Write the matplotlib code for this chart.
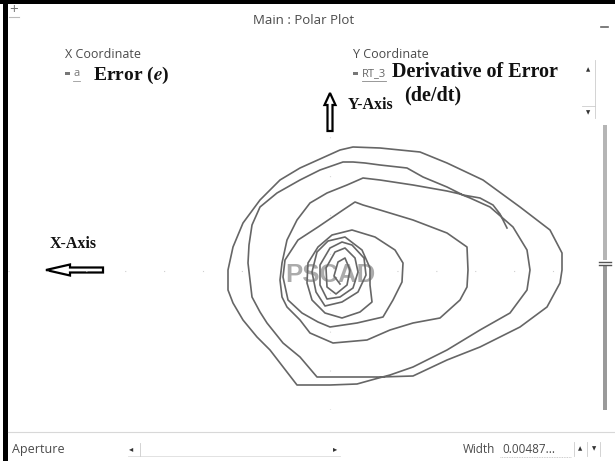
import matplotlib
matplotlib.use("Agg")
import matplotlib.pyplot as plt
from matplotlib.patches import Rectangle, FancyArrow

# phase-plane trajectory: error e (x) against de/dt (y)
e_vals = [
    1.77, 1.70, 1.63, 1.50, 1.33,
    1.17, 0.93, 0.77, 0.50, 0.35, 0.23, 0.13,
    -0.10, -0.30, -0.53, -0.70, -0.78, -0.81, -0.82, -0.80, -0.78, -0.70, -0.63, -0.47, -0.30, -0.13,
    0.20, 0.50, 0.83,
    1.00, 1.17, 1.50, 1.90, 2.17, 2.30, 2.32, 2.32, 2.20, 1.90, 1.53, 1.17, 0.90, 0.50, 0.23,
    0.10, -0.30, -0.50, -0.70, -0.87, -0.97, -1.02, -1.02, -0.97, -0.87, -0.73, -0.60, -0.50, -0.33,
    0.00, 0.27, 0.45, 0.60,
    0.83, 1.17, 1.50, 1.80, 1.97, 2.00, 1.97, 1.83, 1.60, 1.40, 1.30,
    1.17, 0.83, 0.50, 0.33,
    0.17, -0.03, -0.20, -0.33, -0.43, -0.48, -0.50, -0.48, -0.43, -0.30, -0.20, 0.03, 0.37, 0.60,
    0.83, 1.10, 1.30, 1.37, 1.38, 1.37,
    1.17, 0.83, 0.50, 0.33, 0.25, 0.13, -0.12, -0.32, -0.45, -0.47, -0.42, -0.28, -0.12, 0.00, 0.27, 0.53,
    0.63, 0.72, 0.73, 0.65, 0.45, 0.22,
    0.02, -0.12, -0.22, -0.23, -0.18, -0.05, 0.12, 0.30, 0.42,
    0.40, 0.40, 0.32, 0.15, -0.02, -0.13, -0.18, -0.14, -0.05, 0.12, 0.28, 0.36, 0.34, 0.22,
    0.12, 0.00, -0.10, -0.10, -0.03, 0.10, 0.23, 0.28, 0.25, 0.15, 0.05, -0.04, -0.03, 0.06,
    0.17, 0.20, 0.15, 0.08, 0.04, 0.10,
]
de_vals = [
    0.43, 0.57, 0.66, 0.73, 0.76,
    0.84, 0.94, 1.03, 1.06, 1.08, 1.09, 1.09,
    1.01, 0.91, 0.78, 0.64, 0.46, 0.26, 0.08, -0.09, -0.26, -0.41, -0.52, -0.72, -0.86, -1.06,
    -1.06, -1.06, -1.05,
    -0.97, -0.89, -0.76, -0.56, -0.36, -0.12, 0.01, 0.18, 0.41, 0.64, 0.91, 1.08, 1.19, 1.23, 1.24,
    1.21, 1.03, 0.91, 0.71, 0.48, 0.24, 0.01, -0.19, -0.32, -0.49, -0.66, -0.79, -0.92, -1.14,
    -1.14, -1.13, -1.08, -1.04,
    -0.96, -0.79, -0.59, -0.42, -0.19, 0.01, 0.21, 0.44, 0.64, 0.73, 0.77,
    0.80, 0.86, 0.91, 0.93,
    0.86, 0.78, 0.68, 0.51, 0.31, 0.08, -0.09, -0.26, -0.36, -0.49, -0.62, -0.72, -0.69, -0.59,
    -0.52, -0.47, -0.29, -0.16, 0.01, 0.24,
    0.38, 0.51, 0.61, 0.66, 0.69, 0.61, 0.44, 0.31, 0.11, -0.06, -0.29, -0.42, -0.51, -0.56, -0.52, -0.46,
    -0.29, -0.11, 0.08, 0.21, 0.34, 0.41,
    0.36, 0.24, 0.08, -0.12, -0.29, -0.42, -0.47, -0.41, -0.31,
    -0.14, 0.03, 0.21, 0.34, 0.30, 0.19, -0.01, -0.21, -0.35, -0.31, -0.21, -0.04, 0.13, 0.26,
    0.29, 0.23, 0.06, -0.14, -0.28, -0.26, -0.17, -0.01, 0.13, 0.23, 0.19, 0.03, -0.16, -0.23,
    -0.14, 0.01, 0.13, 0.09, -0.05, -0.13,
]

x_label = "Error ($\\mathbfit{e}$)"
y_label_1 = "Derivative of Error"
y_label_2 = "(de/dt)"
width_value = "0.00487..."

plt.rcParams["mathtext.fontset"] = "stix"

ui_font = ["Open Sans", "DejaVu Sans"]
serif = "Liberation Serif"
ui_grey = "#4a4a4a"
ui_size = 9

fig = plt.figure(figsize=(6.15, 4.61), dpi=100)
fig.patch.set_facecolor("white")

# window chrome drawn in pixel units
ui = fig.add_axes([0, 0, 1, 1])
ui.set_xlim(0, 615)
ui.set_ylim(461, 0)
ui.axis("off")

ui.add_patch(Rectangle((0, 0), 615, 4, color="black", lw=0))
ui.add_patch(Rectangle((3, 0), 5, 461, color="black", lw=0))

ui.text(14, 11, "+", fontsize=11, color="#777777", ha="center", va="center", family=ui_font)
ui.plot([9, 19], [17, 17], color="#bbbbbb", lw=0.8)
ui.text(304, 21, "Main : Polar Plot", fontsize=9.5, color=ui_grey, ha="center", va="center", family=ui_font)
ui.plot([601, 608], [27, 27], color="#666666", lw=1.2)

ui.text(65, 55, "X Coordinate", fontsize=ui_size, color=ui_grey, va="center", family=ui_font)
ui.add_patch(Rectangle((65, 72), 5, 3, color="#777777", lw=0))
ui.text(73, 74, "a", fontsize=8, color="#777777", va="center", family=ui_font)
ui.plot([73, 80], [81, 81], color="#999999", lw=0.6)
ui.text(93, 75, x_label, fontsize=14, fontweight="bold",
        family=serif, va="center", color="#111111")

ui.text(353, 55, "Y Coordinate", fontsize=ui_size, color=ui_grey, va="center", family=ui_font)
ui.add_patch(Rectangle((353, 72), 5, 3, color="#777777", lw=0))
ui.text(362, 74, "RT_3", fontsize=8, color="#666666", va="center", family=ui_font)
ui.plot([362, 386], [81, 81], color="#888888", lw=0.6)
ui.text(392, 72, y_label_1, fontsize=14.5, fontweight="bold", family=serif, va="center", color="#111111")
ui.text(404, 95, y_label_2, fontsize=14.5, fontweight="bold", family=serif, va="center", color="#111111")
ui.text(348, 105, "Y-Axis", fontsize=11.5, fontweight="bold", family=serif, va="center", color="#111111")

ui.add_patch(FancyArrow(330, 131, 0, -38, width=5, head_width=11, head_length=12,
                        length_includes_head=True, fc="white", ec="black", lw=1.6))
ui.text(50, 244, "X-Axis", fontsize=11.5, fontweight="bold", family=serif, va="center", color="#111111")
ui.add_patch(FancyArrow(103, 270, -57, 0, width=5, head_width=11, head_length=24,
                        length_includes_head=True, fc="white", ec="black", lw=1.6))

# small list scroller next to the labels
ui.text(588, 70, "\u25b2", fontsize=4, color="#333333", ha="center", va="center")
ui.text(588, 113, "\u25bc", fontsize=4, color="#333333", ha="center", va="center")
ui.plot([595, 595], [60, 118], color="#cccccc", lw=0.6)
ui.plot([582, 595], [106, 106], color="#cccccc", lw=0.6)

# right-hand vertical slider
ui.add_patch(Rectangle((603, 125), 4, 135, color="#b5b5b5", lw=0))
ui.add_patch(Rectangle((603, 266), 4, 144, color="#9a9a9a", lw=0))
ui.plot([599, 611], [262, 262], color="#555555", lw=1.0)
ui.plot([599, 611], [265, 265], color="#555555", lw=1.0)

# bottom control strip
ui.plot([8, 615], [432, 432], color="#d8d8d8", lw=0.8)
ui.text(12, 449, "Aperture", fontsize=ui_size, color=ui_grey, va="center", family=ui_font)
ui.text(131, 449, "\u25c2", fontsize=6, color="#333333", ha="center", va="center")
ui.text(335, 449, "\u25b8", fontsize=6, color="#333333", ha="center", va="center")
ui.plot([128, 340], [456, 456], color="#dddddd", lw=0.6)
ui.plot([140, 140], [443, 456], color="#cccccc", lw=0.6)
ui.text(463, 449, "Width", fontsize=8.5, color=ui_grey, va="center", family=ui_font)
ui.text(502, 449, width_value, fontsize=8.5, color=ui_grey, va="center", family=ui_font)
ui.plot([500, 571], [457, 457], color="#bbbbbb", lw=0.6, ls=(0, (1, 1)))
ui.text(580, 449, "\u25b2", fontsize=4, color="#333333", ha="center", va="center")
ui.text(594, 449, "\u25bc", fontsize=4, color="#333333", ha="center", va="center")
ui.plot([574, 574], [442, 456], color="#cccccc", lw=0.6)
ui.plot([587, 587], [442, 456], color="#cccccc", lw=0.6)
ui.plot([600, 600], [442, 456], color="#cccccc", lw=0.6)

# plot canvas
ax = fig.add_axes([8 / 615, 1 - 410 / 461, 557 / 615, 290 / 461])
ax.set_xlim(-3.22, 2.35)
ax.set_ylim(-1.39, 1.51)
ax.axis("off")
ax.patch.set_alpha(0)

ax.axhline(0, color="#cfcfcf", lw=0.8, ls=(0, (1, 34)))
ax.axvline(0, color="#d8d8d8", lw=0.8, ls=(0, (1, 34)))
ax.text(0.0, -0.04, "PSCAD", fontsize=18.5, fontweight="bold", family="Liberation Sans",
        color="#ababab", ha="center", va="center", zorder=1)

ax.plot(e_vals, de_vals, color="#666666", lw=1.2, zorder=2)

fig.savefig("out.png", dpi=100)
